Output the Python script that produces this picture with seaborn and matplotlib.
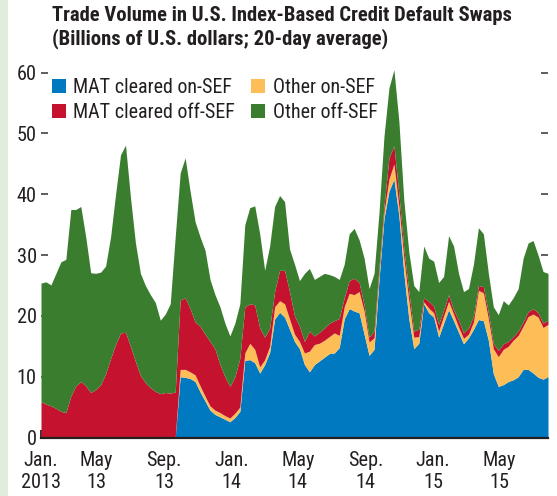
import numpy as np
import pandas as pd
import matplotlib
matplotlib.use("Agg")
import matplotlib.pyplot as plt
from matplotlib.patches import Patch, Rectangle
from matplotlib import font_manager
import seaborn as sns

# sample dates (every 9 days, Jan 2013 - Jul 2015)
dates = pd.date_range("2013-01-21", periods=103, freq="9D")

# cumulative levels (billions of U.S. dollars)
blue_top = [0] * 28 + [
    10, 9.9, 9.7, 9.2, 7.5, 6, 4.5, 3.8, 3.4, 3.0, 2.6, 3.3, 4.3,
    12.7, 12.8, 12.3, 10.6, 12, 14, 19.5, 20.6, 19.8, 17.8, 15.8, 14.6,
    12, 10.8, 12, 12.6, 13.2, 13.8, 13.9, 14.8, 19.5, 21.2, 20.8, 20.5,
    17, 13.5, 14.5, 26, 36, 40.5, 42.5, 36.5, 27, 19.5, 14.6, 15.5, 22,
    20.5, 19.8, 16.5, 18.8, 21, 19.2, 17.3, 15.4, 16.4, 17.8, 19.4, 19.2,
    16, 10.5, 8.4, 8.7, 9.2, 9.5, 10, 11.2, 11.2, 10.6, 9.9, 9.6, 10]

orange_top = [0] * 28 + [
    11.2, 11.2, 10.8, 10.3, 8.5, 6.8, 5.2, 4.5, 4.1, 3.6, 3.2, 4.0, 5,
    13.9, 15.5, 14.5, 11.6, 12.8, 15, 21.5, 22.5, 22, 19.5, 17, 15.8,
    13.9, 14.2, 15.3, 15.5, 16, 16.6, 17.2, 16.8, 21.5, 23.7, 23.5, 24,
    20.8, 15.7, 16.4, 27, 37, 42.5, 45, 38, 29.5, 22.5, 16.5, 16.6, 22.3,
    21.3, 20.5, 17.5, 20, 22.4, 20.3, 18.2, 16.3, 17, 19, 24.2, 23.8,
    19.5, 14.6, 13.3, 14.5, 15, 16, 16.8, 18.3, 19.9, 20.3, 19.8, 18.1, 18.6]

red_top = [
    5.9, 5.5, 5.2, 4.8, 4.3, 4.1, 6.8, 8.5, 9.2, 8.5, 7.4, 7.9, 8.7,
    10.5, 13, 15.3, 17.2, 17.3, 15, 12.5, 10.2, 9, 8.2, 7.6, 7.2, 7.4,
    7.3, 7.5,
    22.6, 23, 21.2, 19, 18.3, 17, 15.8, 14.6, 12, 10, 8.4, 10, 13,
    21.5, 22, 21.8, 18, 16.5, 18, 24, 27.5, 27.5, 24, 20, 18.3,
    15.8, 17.5, 16.7, 17.3, 18, 18.8, 19.2, 19.6, 23, 25.8, 26.2, 25.5,
    21.8, 16.5, 17.5, 28, 38, 46, 48, 40, 31, 24, 17.5, 17.8, 23,
    22.4, 21.6, 18.6, 21, 23.5, 21, 19.3, 17.2, 18, 20, 25, 24.8,
    20.5, 15.5, 14.3, 15.4, 15.8, 16.6, 17.5, 19, 20.7, 21.2, 20.5, 18.8, 19.3]

total = [
    25.4, 25.6, 25.1, 27, 28.9, 29.3, 37.5, 37.5, 38, 33, 27.1, 27, 27.2,
    28.2, 33, 40, 46.5, 48.1, 39.5, 32, 27, 25, 23.5, 22.2, 19.3, 20.3,
    22, 33,
    43.5, 46, 40.5, 35.5, 33, 30.8, 26, 23.5, 21.5, 18.8, 16.7, 18.8, 22,
    35, 37.8, 38.1, 33.5, 27.5, 31.5, 38, 39.8, 38.8, 31, 28.5, 25.8,
    27, 27.8, 26, 26.5, 27, 26.8, 26.5, 26, 28.5, 33.5, 34.4, 32.5,
    29.5, 24.5, 27, 37, 49.5, 57.5, 60.5, 52, 39, 30.5, 25, 24, 31.5,
    29.5, 29, 25.5, 26.5, 33.2, 31.5, 27, 24, 24.5, 28.5, 34.5, 33.5,
    27, 21.5, 20.2, 22.5, 21.8, 23, 24.5, 29.5, 32, 32.4, 30, 27.3, 27]

series_names = ["MAT cleared on-SEF", "Other on-SEF",
                "MAT cleared off-SEF", "Other off-SEF"]
colors = ["#0079C1", "#FDBE57", "#C4122F", "#3A7D2E"]

tick_dates = pd.to_datetime(["2013-01-21", "2013-05-01", "2013-09-01", "2014-01-01",
                             "2014-05-01", "2014-09-01", "2015-01-01", "2015-05-01"])
tick_labels = ["Jan.\n2013", "May\n13", "Sep.\n13", "Jan.\n14",
               "May\n14", "Sep.\n14", "Jan.\n15", "May\n15"]

sns.set_theme(style="white")


def pick_font():
    """Prefer a narrow / condensed sans face, like the original"""
    fl = font_manager.fontManager.ttflist
    names = {f.name for f in fl}
    for n in ["Liberation Sans Narrow", "Roboto Condensed", "Open Sans Condensed",
              "Noto Sans Condensed", "DejaVu Sans Condensed", "Arial Narrow"]:
        if n in names:
            return n, "normal"
    for f in fl:
        if "Narrow" in f.name or "Condensed" in f.name:
            return f.name, "normal"
    for f in fl:
        st = f.stretch
        if (isinstance(st, str) and "condensed" in st) or (isinstance(st, int) and st < 500):
            return f.name, st
    for n in ["Liberation Sans", "Roboto"]:
        if n in names:
            return n, "normal"
    return "DejaVu Sans", "normal"


FONT, STRETCH = pick_font()
plt.rcParams["font.family"] = [FONT, "DejaVu Sans"]
plt.rcParams["font.stretch"] = STRETCH
TXT = "#231F20"

b = np.array(blue_top, float)
o = np.array(orange_top, float)
r = np.array(red_top, float)
t = np.array(total, float)
mat_on = b
other_on = o - b
mat_off = r - o
other_off = t - r

W, H = 557, 496
fig = plt.figure(figsize=(W / 100, H / 100), dpi=100)
fig.patches.append(Rectangle((0, 0), 8 / W, 1, transform=fig.transFigure,
                             facecolor="#E2ECDD", edgecolor="none", zorder=0))

y_top = 61.5
px_per = 6.08
ax_h = y_top * px_per
ax = fig.add_axes([41 / W, 1 - 437.5 / H, 507 / W, ax_h / H])
ax.stackplot(dates, mat_on, other_on, mat_off, other_off, colors=colors,
             linewidth=0, zorder=1)

ax.set_xlim(dates[0], dates[-1])
ax.set_ylim(0, y_top)
ax.set_yticks(range(0, 61, 10))
ax.set_xticks(tick_dates)
ax.set_xticklabels(tick_labels)

for s in ["top", "left", "right"]:
    ax.spines[s].set_visible(False)
ax.spines["bottom"].set_color("#231F20")
ax.spines["bottom"].set_linewidth(1.6)
ax.spines["bottom"].set_zorder(5)

# scale text so widths match the reference (narrow font in original)
renderer = fig.canvas.get_renderer()


def fit_size(s, size, target_px, weight="normal", cap=16):
    tmp = fig.text(0, 0, s, fontsize=size, fontweight=weight)
    w = tmp.get_window_extent(renderer).width
    tmp.remove()
    return min(cap, size * target_px / w)


tick_fs = fit_size("2013", 14.5, 40)
leg_fs = fit_size("MAT cleared off-SEF", 13, 162)
title_fs = fit_size("Trade Volume in U.S. Index-Based Credit Default Swaps", 14, 464, "bold")

ax.tick_params(axis="y", which="both", direction="in", left=True, right=True,
               length=5, width=1.1, color="#333333", labelsize=tick_fs,
               labelcolor=TXT, pad=3)
ax.tick_params(axis="x", direction="in", bottom=True, length=5.5, width=1.3,
               color="#231F20", labelsize=tick_fs, labelcolor=TXT, pad=10)
for lab in ax.get_xticklabels():
    lab.set_linespacing(1.2)

handles = [Patch(facecolor=c, edgecolor="none") for c in colors]
order = [0, 2, 1, 3]
leg = ax.legend([handles[i] for i in order], [series_names[i] for i in order],
                ncol=2, loc="upper left", bbox_to_anchor=(0.022, 0.962),
                frameon=False, fontsize=leg_fs, handlelength=0.68, handleheight=0.68,
                handletextpad=0.38, columnspacing=0.8, labelspacing=0.32,
                borderpad=0, borderaxespad=0)
for txt in leg.get_texts():
    txt.set_color(TXT)

fig.text(52 / W, 1 - 6 / H,
         "Trade Volume in U.S. Index-Based Credit Default Swaps\n"
         "(Billions of U.S. dollars; 20-day average)",
         ha="left", va="top", fontsize=title_fs, fontweight="bold", color=TXT,
         linespacing=1.2)

fig.savefig("out.png", dpi=100)
